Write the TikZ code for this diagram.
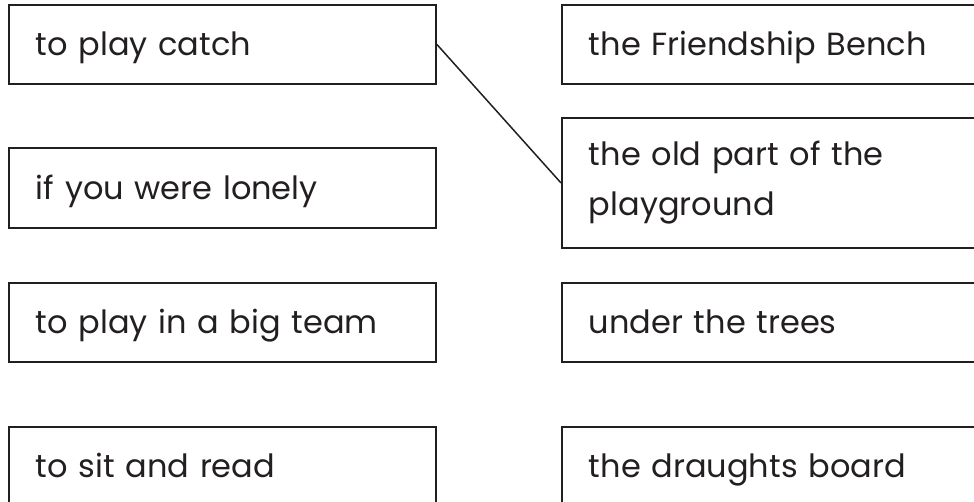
\documentclass[tikz,border=0pt]{standalone}
\usepackage{fontspec}
\setmainfont{Poppins}
\usetikzlibrary{positioning}
\definecolor{ink}{HTML}{231F20}
\tikzset{
  box/.style={draw=ink, line width=1.9pt, rectangle, anchor=north west,
    text width=373pt, inner xsep=27pt, inner ysep=0pt, align=left,
    text=ink, font=\fontsize{32}{50}\selectfont},
  oneline/.style={box, minimum height=79pt, text height=30pt, text depth=7pt},
  link/.style={draw=ink, line width=1.5pt}
}

\begin{document}
\begin{tikzpicture}[x=1pt, y=-1pt]
\useasboundingbox (0,0) rectangle (974,501);
\clip (0,0) rectangle (974,501);
% left column
\node[oneline] (play) at (8,4) {to play catch};
\node[oneline, minimum height=80pt] (lonely) at (8,147) {if you were lonely};
\node[oneline] (team) at (8,282) {to play in a big team};
\node[oneline] (read) at (8,426) {to sit and read};

% right column
\node[oneline] (bench) at (561,4) {the Friendship Bench};
\node[box, minimum height=130pt] (oldpart) at (561,117) {the old part of the\\playground};
\node[oneline] (trees) at (561,282) {under the trees};
\node[oneline] (draughts) at (561,426) {the draughts board};

% answer line
\draw[link] (play.east) -- (oldpart.west);
\end{tikzpicture}
\end{document}
